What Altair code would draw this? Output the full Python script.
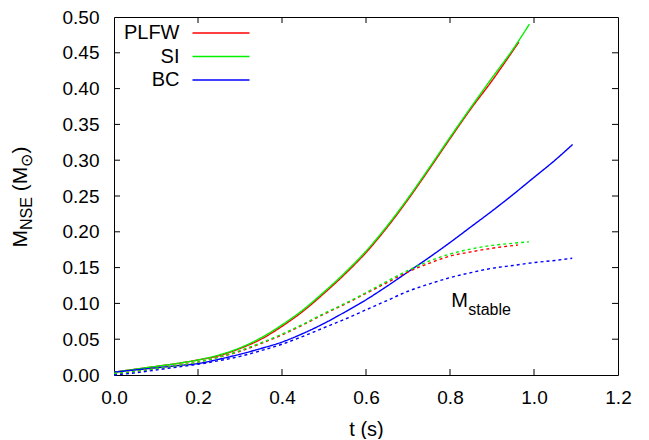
import altair as alt
import pandas as pd

# ---------------- data ----------------
models = ["PLFW", "SI", "BC"]
colors = ["#ff0000", "#00f000", "#0000ff"]

# M_NSE (solid)
t_plfw = [0.0, 0.05, 0.1, 0.15, 0.2, 0.25, 0.3, 0.35, 0.4, 0.45, 0.5, 0.55, 0.6, 0.65, 0.7, 0.75, 0.8, 0.85, 0.9, 0.93, 0.964]
m_plfw = [0.004, 0.008, 0.012, 0.016, 0.021, 0.027, 0.037, 0.050, 0.068, 0.089, 0.114, 0.141, 0.171, 0.206, 0.245, 0.287, 0.330, 0.372, 0.411, 0.436, 0.465]

t_si = [0.0, 0.05, 0.1, 0.15, 0.2, 0.25, 0.3, 0.35, 0.4, 0.45, 0.5, 0.55, 0.6, 0.65, 0.7, 0.75, 0.8, 0.85, 0.9, 0.95, 0.989]
m_si = [0.004, 0.008, 0.012, 0.016, 0.021, 0.028, 0.038, 0.052, 0.070, 0.091, 0.116, 0.143, 0.173, 0.208, 0.247, 0.289, 0.332, 0.374, 0.415, 0.455, 0.490]

t_bc = [0.0, 0.05, 0.1, 0.15, 0.2, 0.25, 0.3, 0.35, 0.4, 0.45, 0.5, 0.55, 0.6, 0.65, 0.7, 0.75, 0.8, 0.85, 0.9, 0.95, 1.0, 1.05, 1.092]
m_bc = [0.004, 0.007, 0.010, 0.013, 0.016, 0.022, 0.029, 0.037, 0.046, 0.058, 0.072, 0.088, 0.105, 0.124, 0.144, 0.164, 0.185, 0.207, 0.229, 0.252, 0.276, 0.300, 0.322]

# M_stable (dotted)
ts_plfw = [0.0, 0.05, 0.1, 0.15, 0.2, 0.25, 0.3, 0.35, 0.4, 0.45, 0.5, 0.55, 0.6, 0.65, 0.7, 0.75, 0.8, 0.85, 0.9, 0.9615]
ms_plfw = [0.002, 0.005, 0.009, 0.013, 0.018, 0.025, 0.033, 0.044, 0.056, 0.070, 0.085, 0.099, 0.114, 0.129, 0.144, 0.156, 0.166, 0.172, 0.177, 0.1815]

ts_si = [0.0, 0.05, 0.1, 0.15, 0.2, 0.25, 0.3, 0.35, 0.4, 0.45, 0.5, 0.55, 0.6, 0.65, 0.7, 0.75, 0.8, 0.85, 0.9, 0.95, 0.988]
ms_si = [0.002, 0.005, 0.009, 0.013, 0.018, 0.025, 0.034, 0.045, 0.057, 0.071, 0.086, 0.100, 0.115, 0.131, 0.146, 0.159, 0.169, 0.176, 0.181, 0.184, 0.186]

ts_bc = [0.0, 0.05, 0.1, 0.15, 0.2, 0.25, 0.3, 0.35, 0.4, 0.45, 0.5, 0.55, 0.6, 0.65, 0.7, 0.75, 0.8, 0.85, 0.9, 0.95, 1.0, 1.05, 1.091]
ms_bc = [0.0, 0.003, 0.007, 0.011, 0.015, 0.020, 0.026, 0.034, 0.043, 0.054, 0.066, 0.078, 0.091, 0.104, 0.117, 0.127, 0.136, 0.143, 0.149, 0.153, 0.157, 0.160, 0.163]

x_ticks = [0.0, 0.2, 0.4, 0.6, 0.8, 1.0, 1.2]
y_ticks = [0.0, 0.05, 0.1, 0.15, 0.2, 0.25, 0.3, 0.35, 0.4, 0.45, 0.5]

# ---------------- build tables ----------------
rows = []
for name, kind, ts, ms in [
    ("PLFW", "NSE", t_plfw, m_plfw), ("SI", "NSE", t_si, m_si), ("BC", "NSE", t_bc, m_bc),
    ("PLFW", "stable", ts_plfw, ms_plfw), ("SI", "stable", ts_si, ms_si), ("BC", "stable", ts_bc, ms_bc),
]:
    for t, m in zip(ts, ms):
        rows.append({"model": name, "kind": kind, "series": name + "-" + kind, "t": t, "m": m})
df = pd.DataFrame(rows)

W, H = 504, 358
FONT = "Liberation Sans"
xs = alt.Scale(domain=[0, 1.2], nice=False, zero=False)
ys = alt.Scale(domain=[0, 0.5], nice=False, zero=False)
ax_x = alt.Axis(values=x_ticks, format=".1f", labelPadding=13, ticks=False, tickSize=0, labelFlush=False,
                domain=False, grid=False, titleY=60, titleBaseline="alphabetic")
ax_y = alt.Axis(values=y_ticks, format=".2f", labelPadding=15, ticks=False, tickSize=0, labelFlush=False,
                domain=False, grid=False)
XE = alt.X("t:Q", scale=xs, axis=ax_x, title="t (s)")
YE = alt.Y("m:Q", scale=ys, axis=ax_y, title=None)

lines = alt.Chart(df).mark_line(strokeWidth=1.4, interpolate="monotone").encode(
    x=XE, y=YE,
    color=alt.Color("model:N", scale=alt.Scale(domain=models, range=colors), legend=alt.Legend(
        orient="none", legendX=96.5, legendY=5.5, title=None, symbolType="M-3,0H3",
        symbolSize=361, symbolStrokeWidth=1.4, labelFontSize=20, labelOffset={"expr": "-52"},
        labelAlign="right", rowPadding=2.5, padding=0, labelFont=FONT, labelColor="black")),
    strokeDash=alt.StrokeDash("kind:N", scale=alt.Scale(domain=["NSE", "stable"], range=[[1, 0], [3, 3]]), legend=None),
    detail="series:N",
)

# inward ticks on all four sides (gnuplot style)
xt = pd.DataFrame({"t": x_ticks[1:-1]})
yt = pd.DataFrame({"m": y_ticks[1:-1]})
tk = dict(color="black", strokeWidth=1)
ticks_l = alt.Chart(yt).mark_rule(**tk).encode(y=YE, x=alt.value(0), x2=alt.value(6))
ticks_r = alt.Chart(yt).mark_rule(**tk).encode(y=YE, x=alt.value(W - 6), x2=alt.value(W))
ticks_b = alt.Chart(xt).mark_rule(**tk).encode(x=XE, y=alt.value(H), y2=alt.value(H - 6))
ticks_t = alt.Chart(xt).mark_rule(**tk).encode(x=XE, y=alt.value(0), y2=alt.value(6))

# annotation M_stable
ann = pd.DataFrame({"t": [0.803], "m": [0.0944]})
ann_M = alt.Chart(ann).mark_text(text="M", fontSize=20, font=FONT, align="left", baseline="alphabetic", color="black").encode(
    x=XE, y=YE)
ann_s = alt.Chart(ann).mark_text(text="stable", fontSize=16, font=FONT, align="left", baseline="alphabetic", color="black", dx=17, dy=8).encode(
    x=XE, y=YE)

# y-axis title with subscripts: M_NSE (M_sun)   (text, font size, advance in em, gap before in em)
pieces = [("M", 21, 0.833, 0.0), ("NSE", 16, 2.056, 0.0), ("(", 21, 0.333, 0.278),
          ("M", 21, 0.833, 0.0), ("\u2299", 16, 0.838, 0.0), (")", 21, 0.333, 0.0)]
total = sum(fs * (w + g) for _, fs, w, g in pieces)
center_y = 180.0
base_x = -87.0
y0 = center_y + total / 2
one = pd.DataFrame({"k": [0]})
title_layers = []
for txt, fs, w, g in pieces:
    y0 -= fs * g
    px = base_x + (5 if fs < 20 else 0)
    title_layers.append(
        alt.Chart(one).mark_text(text=txt, fontSize=fs, angle=270, align="left", baseline="alphabetic",
                                 font=FONT, color="black").encode(x=alt.value(px), y=alt.value(y0))
    )
    y0 -= fs * w

chart = alt.layer(lines, ticks_l, ticks_r, ticks_b, ticks_t, ann_M, ann_s, *title_layers).properties(
    width=W, height=H, autosize=alt.AutoSizeParams(type="none"),
    padding={"left": 106, "top": 9, "right": 20, "bottom": 64},
).configure_view(stroke="black", strokeWidth=1).configure_axis(
    labelFont=FONT, labelFontSize=19, labelColor="black", titleFont=FONT, titleFontSize=20,
    titleFontWeight="normal", titleColor="black",
)

chart.save("out.html", embed_options={"renderer": "svg", "actions": False})
